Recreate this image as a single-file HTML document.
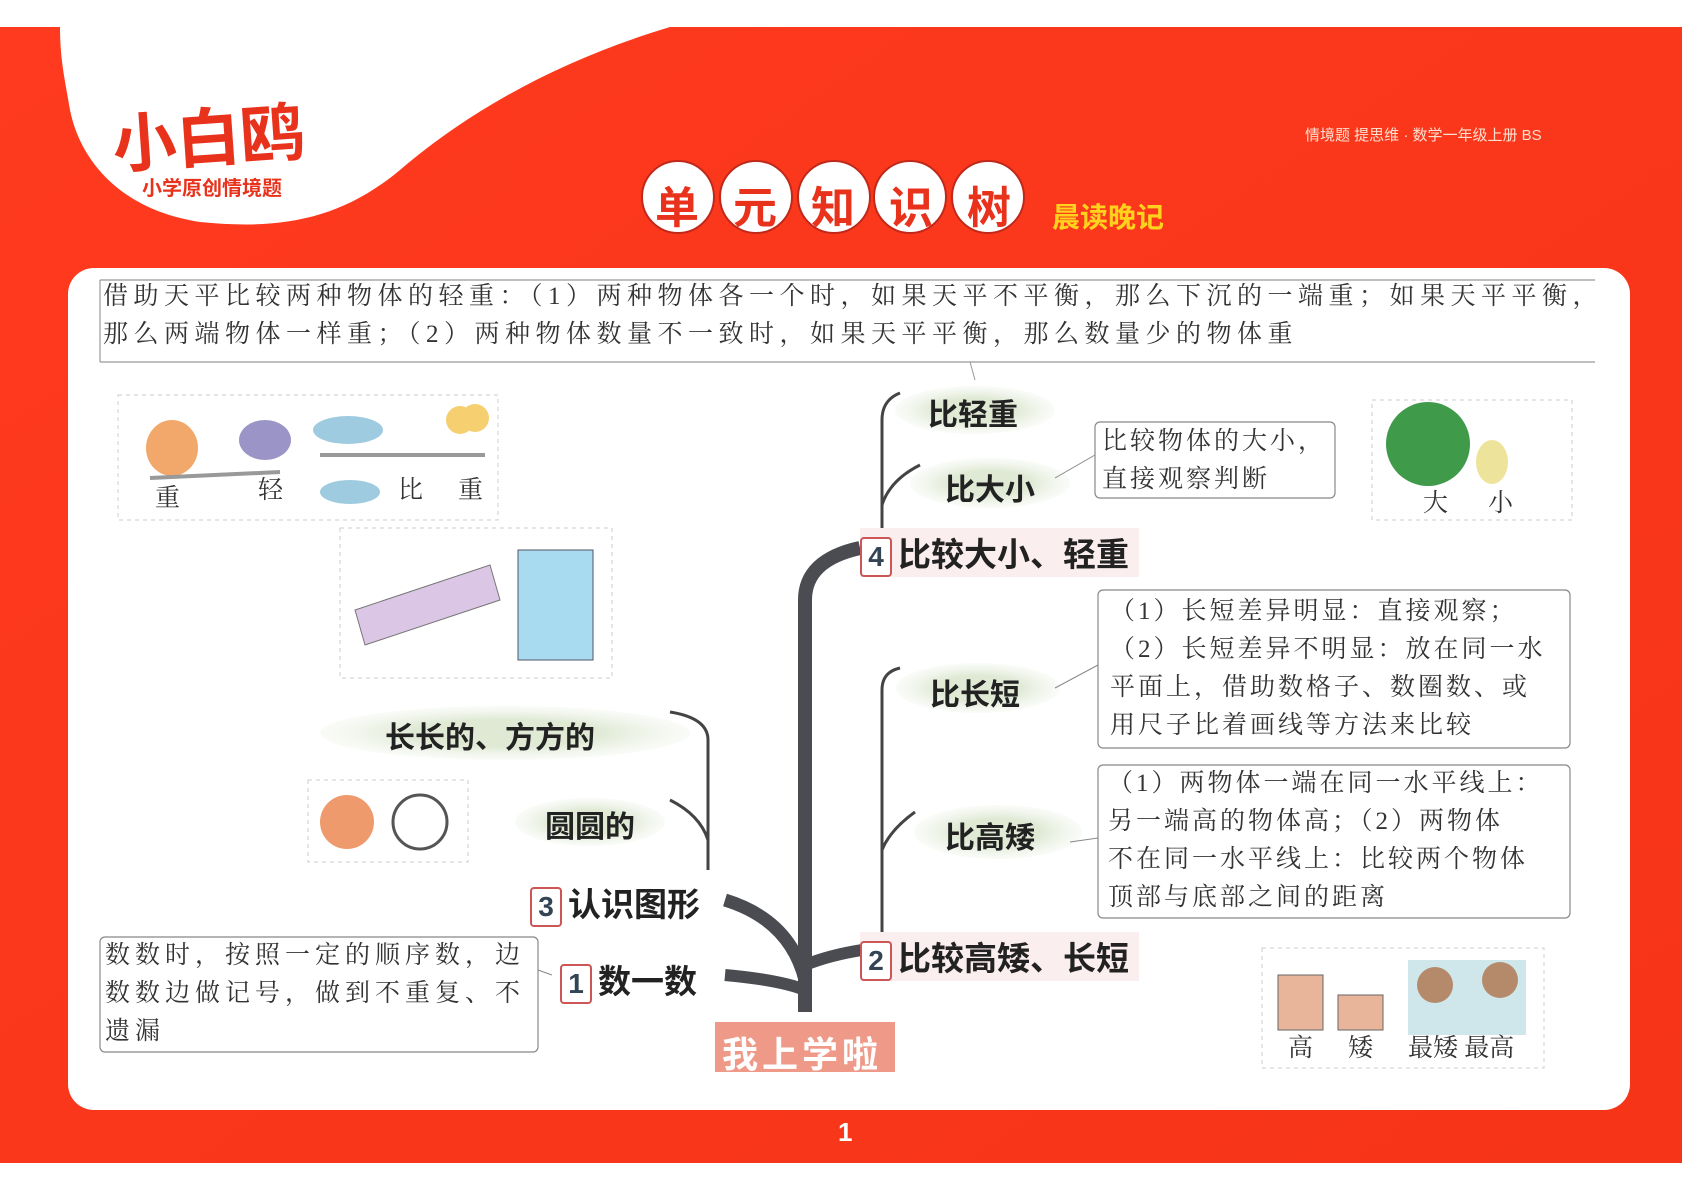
<!DOCTYPE html>
<html><head><meta charset="utf-8">
<style>
body{margin:0;width:1682px;height:1190px;overflow:hidden;background:#fff;font-family:"Liberation Sans","Noto Sans CJK SC",sans-serif;}
.a{position:absolute;white-space:nowrap;}
.s{font-family:"Liberation Serif","Noto Serif CJK SC",serif;color:#333;font-size:25px;line-height:38px;}
.b{font-weight:bold;color:#222;}
.num{display:inline-block;width:28px;height:36px;border:2px solid #c55;border-radius:4px;background:#fff;text-align:center;line-height:36px;font-size:28px;color:#345;margin-right:6px;vertical-align:middle}
</style></head><body>
<svg width="1682" height="1190" style="position:absolute;left:0;top:0">
<defs>
<linearGradient id="r" x1="0" y1="0" x2="1" y2="1"><stop offset="0" stop-color="#ff3a1e"/><stop offset="1" stop-color="#f63418"/></linearGradient>
<radialGradient id="lf"><stop offset="0.5" stop-color="#dfe9d4"/><stop offset="1" stop-color="#eef3e8" stop-opacity="0.3"/></radialGradient>
</defs>
<rect x="0" y="27" width="1682" height="1136" fill="url(#r)"/>
<path d="M60 27 L670 27 C560 60 470 110 400 170 C340 220 280 230 200 222 C120 210 80 160 70 110 C65 80 60 60 60 27Z" fill="#fff"/>
<rect x="68" y="268" width="1562" height="842" rx="26" fill="#fff"/>
<g fill="#fff" stroke="#c0281a" stroke-width="2">
<circle cx="678" cy="197" r="36"/><circle cx="756" cy="197" r="36"/><circle cx="834" cy="197" r="36"/><circle cx="910" cy="197" r="36"/><circle cx="988" cy="197" r="36"/></g>
<path d="M100 280 L1595 280 M100 362 L1595 362 M100 280 L100 362" stroke="#999" stroke-width="1.2" fill="none"/>
<path d="M970 362 L975 380" stroke="#999"/>
<path d="M805 1012 L805 600 Q805 560 860 548" stroke="#4a4c52" stroke-width="14" fill="none"/>
<path d="M805 980 Q790 920 725 900" stroke="#4a4c52" stroke-width="13" fill="none"/>
<path d="M805 990 Q780 980 725 975" stroke="#4a4c52" stroke-width="12" fill="none"/>
<path d="M805 965 Q830 955 862 950" stroke="#4a4c52" stroke-width="12" fill="none"/>
<path d="M882 530 L882 420 Q882 400 900 393 M882 505 Q890 480 920 465" stroke="#444" stroke-width="3" fill="none"/>
<path d="M882 935 L882 690 Q882 672 900 668 M882 850 Q890 830 915 812" stroke="#444" stroke-width="3" fill="none"/>
<path d="M708 870 L708 740 Q708 718 670 712 M708 840 Q700 815 670 800" stroke="#444" stroke-width="3" fill="none"/>
<ellipse cx="975" cy="410" rx="80" ry="24" fill="url(#lf)"/>
<ellipse cx="990" cy="483" rx="80" ry="25" fill="url(#lf)"/>
<ellipse cx="978" cy="688" rx="82" ry="25" fill="url(#lf)"/>
<ellipse cx="998" cy="832" rx="84" ry="27" fill="url(#lf)"/>
<ellipse cx="505" cy="733" rx="185" ry="27" fill="url(#lf)"/>
<ellipse cx="590" cy="822" rx="75" ry="24" fill="url(#lf)"/>
<g stroke="#888" stroke-width="1.2" fill="#fff">
<rect x="1095" y="422" width="240" height="76" rx="5"/>
<rect x="1098" y="590" width="472" height="158" rx="5"/>
<rect x="1098" y="765" width="472" height="153" rx="5"/>
<rect x="100" y="937" width="438" height="115" rx="5"/>
</g>
<path d="M1095 455 L1055 478 M1098 665 L1055 688 M1098 838 L1070 842 M538 970 L552 975" stroke="#888" fill="none"/>
<g stroke="#ccc" stroke-dasharray="4 4" fill="none">
<rect x="118" y="395" width="380" height="125"/>
<rect x="340" y="528" width="272" height="150"/>
<rect x="308" y="780" width="160" height="82"/>
<rect x="1372" y="400" width="200" height="120"/>
<rect x="1262" y="948" width="282" height="120"/>
</g>
<ellipse cx="172" cy="448" rx="26" ry="28" fill="#f2a86b"/><ellipse cx="265" cy="440" rx="26" ry="20" fill="#9b94c6"/>
<path d="M150 478 L280 472" stroke="#999" stroke-width="4"/>
<ellipse cx="348" cy="430" rx="35" ry="14" fill="#9fcbe0"/><circle cx="460" cy="420" r="14" fill="#f6cf70"/><circle cx="475" cy="418" r="14" fill="#f6cf70"/>
<path d="M320 455 L485 455" stroke="#999" stroke-width="4"/>
<ellipse cx="350" cy="492" rx="30" ry="12" fill="#9fcbe0"/>
<path d="M355 610 L490 565 L500 600 L365 645Z" fill="#dcc6e6" stroke="#777"/>
<rect x="518" y="550" width="75" height="110" fill="#a8dbf0" stroke="#556"/>
<circle cx="347" cy="822" r="27" fill="#ef9a6c"/><circle cx="420" cy="822" r="27" fill="#fff" stroke="#555" stroke-width="3"/>
<circle cx="1428" cy="444" r="42" fill="#3f9a4a"/><ellipse cx="1492" cy="462" rx="16" ry="22" fill="#eee39a"/>
<rect x="1278" y="975" width="45" height="55" fill="#e8b49a" stroke="#666"/><rect x="1338" y="995" width="45" height="35" fill="#e8b49a" stroke="#666"/>
<rect x="1408" y="960" width="118" height="75" fill="#cfe6ea"/><circle cx="1435" cy="985" r="18" fill="#b58a6a"/><circle cx="1500" cy="980" r="18" fill="#b58a6a"/>
<rect x="715" y="1022" width="180" height="50" fill="#ef9a88"/>
</svg>

<div class="a b" style="left:112px;top:88px;font-size:64px;color:#e8321c;transform:rotate(-4deg)">小白鸥</div>
<div class="a b" style="left:142px;top:172px;font-size:20px;color:#e8321c">小学原创情境题</div>
<div class="a" style="left:1305px;top:124px;font-size:15px;color:#ffe0d0">情境题 提思维 · 数学一年级上册 BS</div>
<div class="a b" style="left:655px;top:172px;font-size:44px;color:#e8321c;letter-spacing:34px">单元知识树</div>
<div class="a b" style="left:1052px;top:196px;font-size:28px;color:#ffd21e">晨读晚记</div>

<div class="a s" style="left:103px;top:278px;letter-spacing:5.5px">借助天平比较两种物体的轻重：（1）两种物体各一个时，如果天平不平衡，那么下沉的一端重；如果天平平衡，</div>
<div class="a s" style="left:103px;top:316px;letter-spacing:5.5px">那么两端物体一样重；（2）两种物体数量不一致时，如果天平平衡，那么数量少的物体重</div>

<div class="a s" style="left:155px;top:480px">重</div><div class="a s" style="left:258px;top:472px">轻</div>
<div class="a s" style="left:398px;top:472px">比</div><div class="a s" style="left:458px;top:472px">重</div>
<div class="a s" style="left:1423px;top:485px">大</div><div class="a s" style="left:1488px;top:485px">小</div>
<div class="a s" style="left:1288px;top:1030px">高</div><div class="a s" style="left:1348px;top:1030px">矮</div><div class="a s" style="left:1408px;top:1030px">最矮 最高</div>

<div class="a b" style="left:928px;top:390px;font-size:30px">比轻重</div>
<div class="a b" style="left:945px;top:465px;font-size:30px">比大小</div>
<div class="a b" style="left:930px;top:670px;font-size:30px">比长短</div>
<div class="a b" style="left:945px;top:813px;font-size:30px">比高矮</div>
<div class="a b" style="left:385px;top:713px;font-size:30px">长长的、方方的</div>
<div class="a b" style="left:545px;top:802px;font-size:30px">圆圆的</div>

<div class="a b" style="left:860px;top:528px;font-size:33px;background:#fbeeee;padding-right:10px"><span class="num">4</span>比较大小、轻重</div>
<div class="a b" style="left:860px;top:932px;font-size:33px;background:#fbeeee;padding-right:10px"><span class="num">2</span>比较高矮、长短</div>
<div class="a b" style="left:530px;top:878px;font-size:33px"><span class="num">3</span>认识图形</div>
<div class="a b" style="left:560px;top:955px;font-size:33px"><span class="num">1</span>数一数</div>
<div class="a b" style="left:722px;top:1026px;font-size:36px;color:#fff;letter-spacing:4px">我上学啦</div>

<div class="a s" style="left:1102px;top:423px;letter-spacing:3px">比较物体的大小，<br>直接观察判断</div>
<div class="a s" style="left:1110px;top:593px;letter-spacing:3px">（1）长短差异明显：直接观察；<br>（2）长短差异不明显：放在同一水<br>平面上，借助数格子、数圈数、或<br>用尺子比着画线等方法来比较</div>
<div class="a s" style="left:1108px;top:765px;letter-spacing:3px">（1）两物体一端在同一水平线上：<br>另一端高的物体高；（2）两物体<br>不在同一水平线上：比较两个物体<br>顶部与底部之间的距离</div>
<div class="a s" style="left:105px;top:937px;letter-spacing:5px">数数时，按照一定的顺序数，边<br>数数边做记号，做到不重复、不<br>遗漏</div>

<div class="a b" style="left:838px;top:1117px;font-size:26px;color:#fff">1</div>
</body></html>
